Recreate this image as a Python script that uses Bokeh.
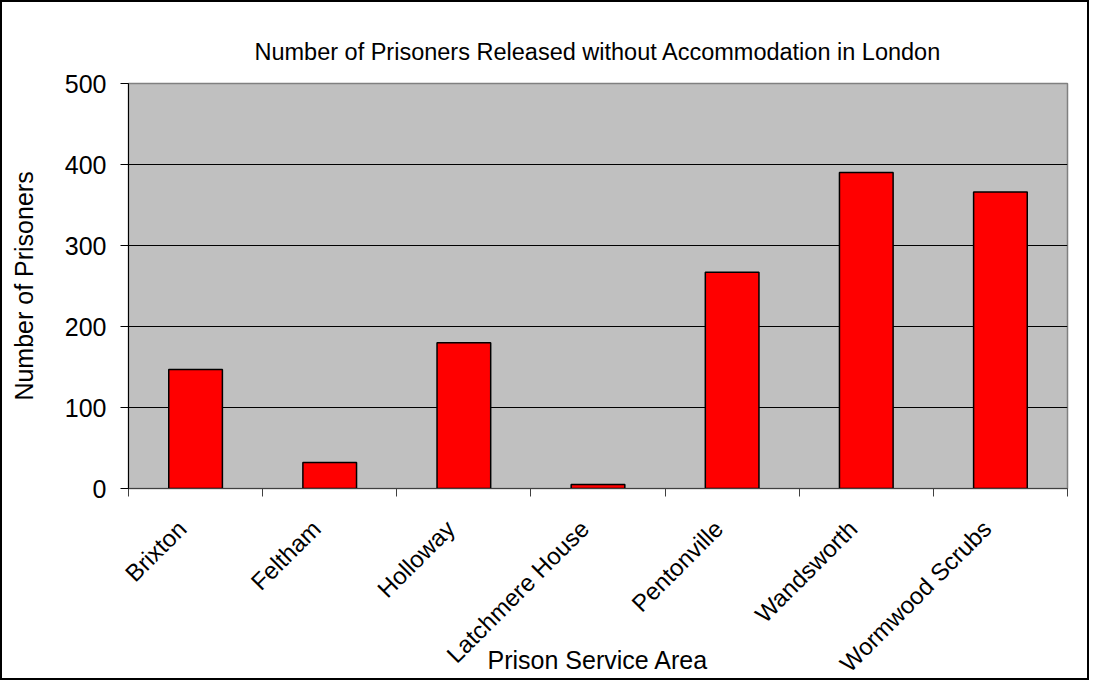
import math
from bokeh.plotting import figure
from bokeh.models import Range1d, FixedTicker, ColumnDataSource
from bokeh.embed import file_html
from bokeh.resources import INLINE

# ---- data ----
categories = ["Brixton", "Feltham", "Holloway", "Latchmere House",
              "Pentonville", "Wandsworth", "Wormwood Scrubs"]
prisoners = [147, 32, 180, 5, 267, 390, 366]
y_ticks = [0, 100, 200, 300, 400, 500]

FONT = "Liberation Sans"

n = len(categories)
centers = [i + 0.5 for i in range(n)]
bounds = list(range(n + 1))
label_anchor = [c - 0.1 for c in centers]   # rotated labels end just left of centre

src = ColumnDataSource(dict(x=centers, top=prisoners, name=categories))

p = figure(width=1089, height=680, output_backend="svg", toolbar_location=None,
           x_range=Range1d(0, n), y_range=Range1d(0, 500),
           min_border_left=126, min_border_right=24, min_border_top=81,
           min_border_bottom=194, background_fill_color="#C0C0C0",
           border_fill_color="white")
p.styles = {"border": "2px solid black"}

p.title.text = "Number of Prisoners Released without Accommodation in London"
p.title.align = "center"
p.title.text_font = FONT
p.title.text_font_size = "23.5px"
p.title.text_font_style = "normal"
p.title.text_color = "black"
p.title.standoff = 37

p.outline_line_color = "#808080"
p.outline_line_width = 1.5

p.vbar(x="x", top="top", width=0.4, bottom=0, source=src,
       fill_color="#FF0000", line_color="black", line_width=1.5)

# grid
p.xgrid.grid_line_color = None
p.ygrid.ticker = FixedTicker(ticks=y_ticks)
p.ygrid.grid_line_color = "black"
p.ygrid.grid_line_width = 1

# y axis
ya = p.yaxis[0]
ya.ticker = FixedTicker(ticks=y_ticks)
ya.axis_label = "Number of Prisoners"
ya.axis_label_text_font = FONT
ya.axis_label_text_font_size = "25px"
ya.axis_label_text_font_style = "normal"
ya.axis_label_text_color = "black"
ya.axis_label_standoff = 24
ya.major_label_text_font = FONT
ya.major_label_text_font_size = "25px"
ya.major_label_text_color = "black"
ya.major_label_standoff = 14
ya.major_tick_out = 8
ya.major_tick_in = 0
ya.minor_tick_out = 0
ya.minor_tick_in = 0
ya.axis_line_color = "black"
ya.major_tick_line_color = "black"

# x axis: label anchors (no tick marks) near category centres, tick marks at boundaries
xa = p.xaxis[0]
xa.ticker = FixedTicker(ticks=label_anchor, minor_ticks=bounds)
xa.major_label_overrides = {a: name for a, name in zip(label_anchor, categories)}
xa.major_label_orientation = math.pi / 4
xa.major_label_text_font = FONT
xa.major_label_text_font_size = "24px"
xa.major_label_text_color = "black"
xa.major_label_standoff = 28
xa.major_tick_out = 0
xa.major_tick_in = 0
xa.minor_tick_out = 8
xa.minor_tick_in = 0
xa.minor_tick_line_color = "#404040"
xa.axis_line_color = "#404040"
xa.axis_label = "Prison Service Area"
xa.axis_label_text_font = FONT
xa.axis_label_text_font_size = "25px"
xa.axis_label_text_font_style = "normal"
xa.axis_label_text_color = "black"
xa.axis_label_standoff = -44

open("out.html", "w").write(file_html(p, INLINE))
